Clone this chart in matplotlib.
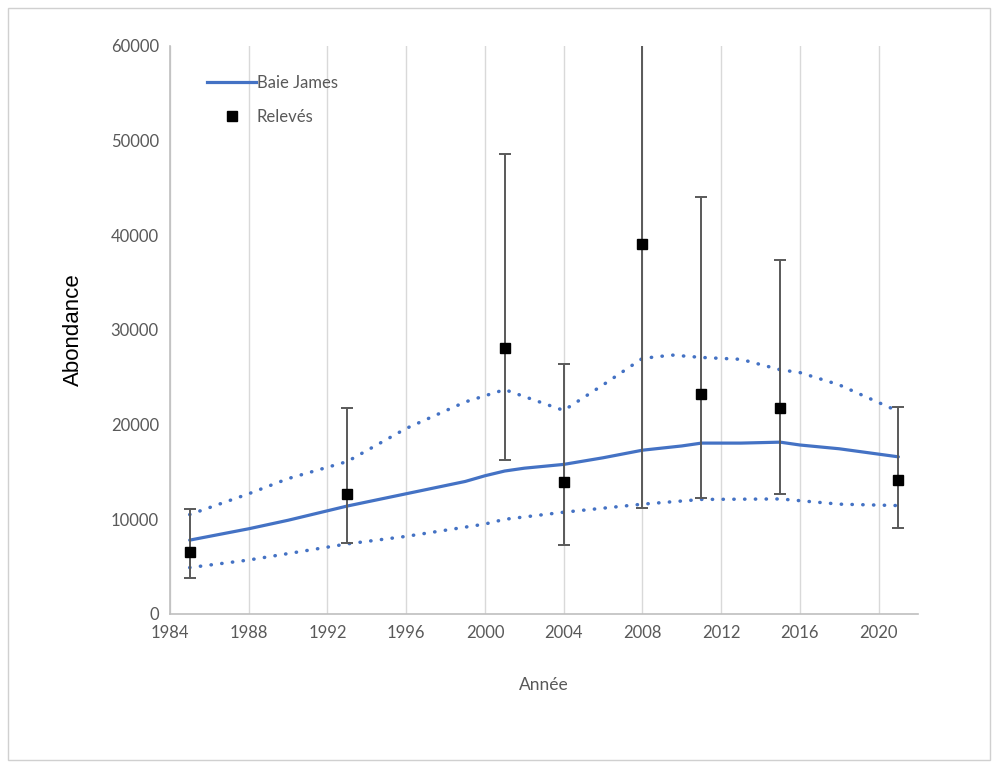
import matplotlib.pyplot as plt
from matplotlib.lines import Line2D
from matplotlib.patches import Rectangle

plt.rcParams['font.family'] = ['Lato', 'DejaVu Sans']

# relevés (survey estimates) with lower / upper limits
survey_years = [1985, 1993, 2001, 2004, 2008, 2011, 2015, 2021]
survey_vals = [6500, 12700, 28100, 13900, 39100, 23200, 21800, 14100]
survey_low = [3800, 7500, 16300, 7300, 11200, 12200, 12700, 9100]
survey_high = [11100, 21800, 48600, 26400, 68000, 44000, 37400, 21900]

# modelled abundance for Baie James with its bounds
model_years = [1985, 1988, 1990, 1992, 1993, 1996, 1999, 2000, 2001, 2002, 2004,
               2006, 2008, 2010, 2011, 2013, 2015, 2016, 2018, 2021]
model_mid = [7800, 9000, 9900, 10900, 11400, 12700, 14000, 14600, 15100, 15400, 15800,
             16500, 17300, 17750, 18050, 18050, 18150, 17850, 17450, 16600]
upper_years = [1985, 1988, 1990, 1993, 1996, 1999, 2001, 2004, 2006, 2008, 2009.5,
               2011, 2013, 2015, 2016, 2018, 2021]
upper_vals = [10500, 12700, 14300, 16100, 19600, 22400, 23700, 21500, 24200, 27000, 27350,
              27100, 26900, 25800, 25500, 24200, 21400]
lower_years = [1985, 1988, 1993, 1996, 2000, 2001, 2004, 2008, 2011, 2015, 2018, 2021]
lower_vals = [4900, 5700, 7400, 8200, 9500, 10000, 10750, 11600, 12100, 12150, 11600, 11450]

blue = '#4472C4'
grey = '#595959'
dots = (0, (0.1, 3.0))

fig = plt.figure(figsize=(9.97, 7.69), dpi=100)
fig.patches.append(Rectangle((0.008, 0.012), 0.985, 0.978, transform=fig.transFigure,
                             fill=False, edgecolor='#d0d0d0', linewidth=1))
ax = fig.add_axes([0.1705, 0.2016, 0.7503, 0.7386])

ax.plot(model_years, model_mid, color=blue, linewidth=2.3, solid_capstyle='round', zorder=3)
ax.plot(upper_years, upper_vals, color=blue, linewidth=2.5, linestyle=dots,
        dash_capstyle='round', zorder=3)
ax.plot(lower_years, lower_vals, color=blue, linewidth=2.5, linestyle=dots,
        dash_capstyle='round', zorder=3)

yerr = [[v - lo for v, lo in zip(survey_vals, survey_low)],
        [hi - v for v, hi in zip(survey_vals, survey_high)]]
ax.errorbar(survey_years, survey_vals, yerr=yerr, fmt='s', color='black', markersize=7.5,
            ecolor=grey, elinewidth=1.4, capsize=4, capthick=1.4, zorder=4)

ax.set_xlim(1984, 2022)
ax.set_ylim(0, 60000)
ax.set_xticks(range(1984, 2021, 4))
ax.set_yticks(range(0, 60001, 10000))
ax.tick_params(length=0, labelsize=12, labelcolor=grey, pad=8)
ax.grid(axis='x', color='#d9d9d9', linewidth=1)
ax.set_axisbelow(True)
for side in ['top', 'right']:
    ax.spines[side].set_visible(False)
for side in ['left', 'bottom']:
    ax.spines[side].set_color('#bfbfbf')
    ax.spines[side].set_linewidth(1.2)

ax.set_xlabel('Année', fontsize=12.5, color=grey, labelpad=26)
ax.set_ylabel('Abondance', fontsize=16, color='black', labelpad=19,
              family=['Liberation Sans', 'DejaVu Sans'])

handles = [Line2D([], [], color=blue, linewidth=2.3),
           Line2D([], [], color='black', marker='s', linestyle='none', markersize=7)]
ax.legend(handles, ['Baie James', 'Relevés'], loc='upper left', bbox_to_anchor=(0.03, 0.975),
          frameon=False, fontsize=12, labelcolor=grey, handlelength=2.9, handletextpad=0.05,
          labelspacing=1.05)

fig.savefig('out.png', dpi=100)
